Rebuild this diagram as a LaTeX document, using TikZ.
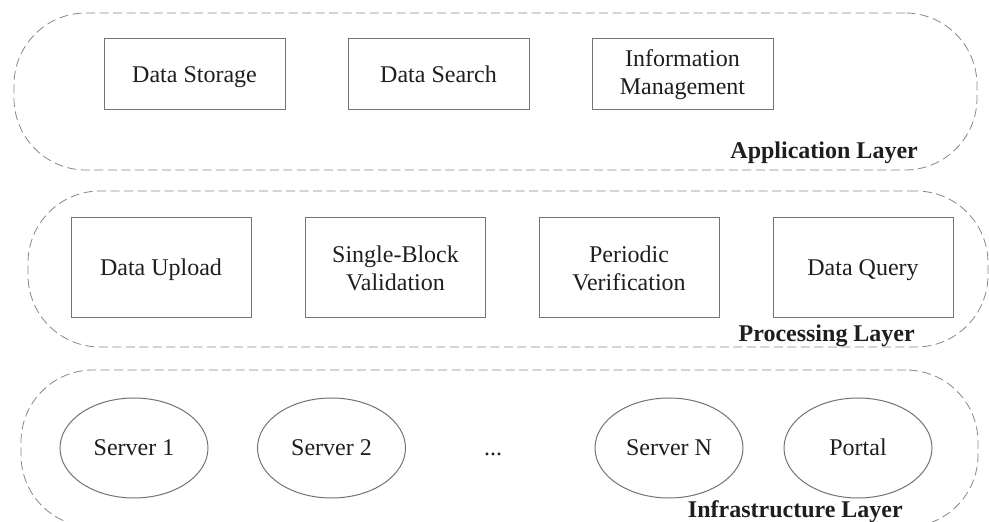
\documentclass[tikz,border=0pt]{standalone}
\usepackage{fontspec}
\setmainfont{Liberation Serif}
\usetikzlibrary{shapes.geometric}
\definecolor{inkc}{RGB}{30,30,30}
\definecolor{boxc}{RGB}{115,115,115}
\definecolor{dashc}{RGB}{135,135,135}
\tikzset{
  layer/.style={draw=dashc, line width=0.8pt, dash pattern=on 9pt off 4.5pt,
    rounded corners=72pt, inner sep=0pt},
  block/.style={draw=boxc, line width=1pt, rectangle, inner sep=0pt,
    text=inkc, align=center, font=\fontsize{24}{28}\selectfont},
  oneline/.style={text height=16pt, text depth=0pt},
  host/.style={draw=boxc, line width=1pt, ellipse, inner sep=0pt,
    minimum width=148pt, minimum height=100pt, text=inkc, oneline,
    font=\fontsize{24}{28}\selectfont},
  tag/.style={anchor=base east, inner sep=0pt, text=inkc,
    font=\fontsize{24}{28}\selectfont\bfseries},
  toprow/.style={block, minimum width=181pt, minimum height=71pt},
  midrow/.style={block, minimum width=180pt, minimum height=100pt}
}
\begin{document}
\begin{tikzpicture}[x=1pt, y=1pt]
\useasboundingbox (0,0) rectangle (989,522);
\clip (0,0) rectangle (989,522);

% layer outlines
\node[layer, minimum width=963pt, minimum height=157pt] (app) at (495.5,430.5) {};
\node[layer, minimum width=960pt, minimum height=156pt] (proc) at (508,253) {};
\node[layer, minimum width=957pt, minimum height=157pt] (infra) at (499.5,73.5) {};

% application layer
\node[toprow, oneline] (store)  at (194.5,447.5) {Data Storage};
\node[toprow, oneline] (search) at (438.5,447.5) {Data Search};
\node[toprow] (info)   at (682.5,447.5) {Information\\Management};
\node[tag] (applbl) at (918,363) {Application Layer};

% processing layer
\node[midrow, oneline] (upload) at (161,254)   {Data Upload};
\node[midrow] (single) at (395.5,254) {Single-Block\\Validation};
\node[midrow] (period) at (629,254)   {Periodic\\Verification};
\node[midrow, oneline] (query)  at (863,254)   {Data Query};
\node[tag] (proclbl) at (915,180) {Processing Layer};

% infrastructure layer
\node[host] (s1)     at (134,74)   {Server 1};
\node[host] (s2)     at (331.5,74) {Server 2};
\node[anchor=base, inner sep=0pt, text=inkc, font=\fontsize{24}{28}\selectfont]
  (dots) at (493,66) {...};
\node[host] (sn)     at (669,74)   {Server N};
\node[host] (portal) at (858,74)   {Portal};
\node[tag] (infralbl) at (903,4) {Infrastructure Layer};
\end{tikzpicture}
\end{document}
